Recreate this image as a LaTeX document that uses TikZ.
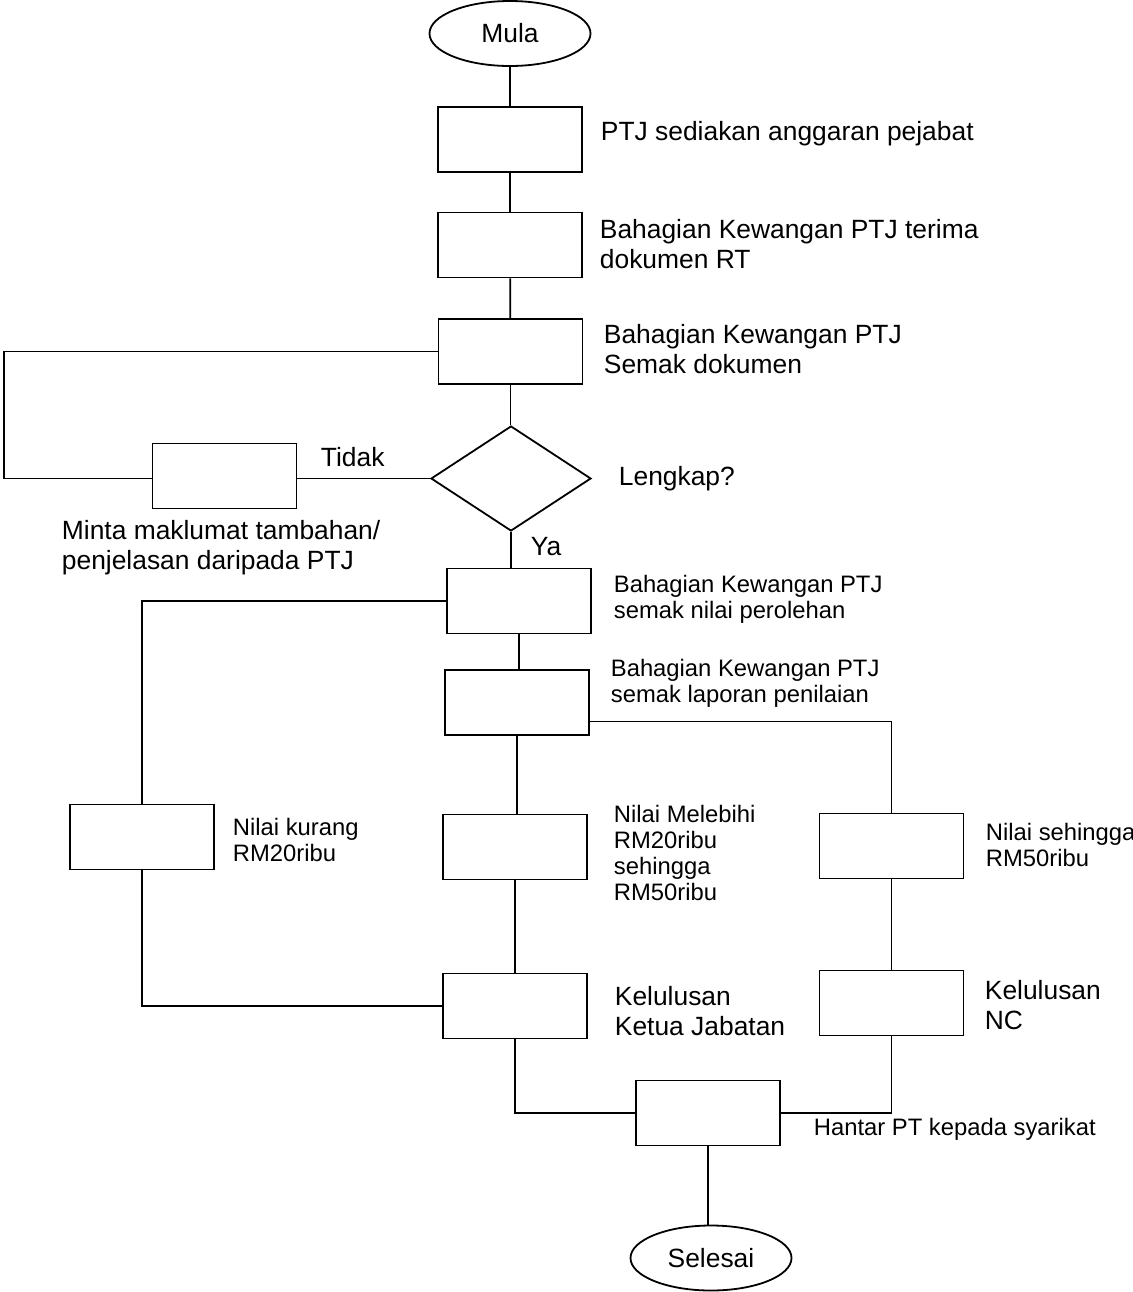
\documentclass[tikz,border=0pt]{standalone}
\usepackage{fontspec}
\setmainfont{Liberation Sans}
\usetikzlibrary{shapes.geometric}
\begin{document}
\begin{tikzpicture}[x=0.5pt,y=-0.5pt,line width=0.9pt,
  box/.style={draw,rectangle,inner sep=0pt,minimum width=72pt,minimum height=32.5pt},
  term/.style={draw,ellipse,inner sep=0pt,minimum width=80.5pt,minimum height=32.5pt,font=\fontsize{13.2}{15}\selectfont},
  dec/.style={draw,diamond,inner sep=0pt,minimum width=80pt,minimum height=52.5pt},
  lbl/.style={anchor=west,inner sep=0pt,align=left,font=\fontsize{13.2}{15}\selectfont},
  lbls/.style={anchor=west,inner sep=0pt,align=left,font=\fontsize{11.9}{13}\selectfont}]
\useasboundingbox (0,0) rectangle (1132,1292);
% nodes
\node[term] (mula) at (510,33.5) {Mula};
\node[box] (b1) at (510,139.5) {};
\node[box] (b2) at (510,245) {};
\node[box] (b3) at (510.5,351.5) {};
\node[box] (b4) at (224.5,476) {};
\node[dec] (d) at (511,478.5) {};
\node[box] (b5) at (519,601) {};
\node[box] (b7) at (517,702.5) {};
\node[box] (b6) at (142,837) {};
\node[box] (b8) at (515,847) {};
\node[box] (b9) at (891.5,846) {};
\node[box] (b10) at (515,1006) {};
\node[box] (b11) at (891.5,1003) {};
\node[box] (b12) at (708,1113) {};
\node[term] (sel) at (711,1258) {Selesai};
\coordinate (lx) at (4,400);
\coordinate (b7r) at ([yshift=-9.5pt]b7.east);
% labels
\node[lbl] (t1) at (600,134) {PTJ sediakan anggaran pejabat};
\node[lbl] (t2) at (599,244) {Bahagian Kewangan PTJ terima\\dokumen RT};
\node[lbl] (t3) at (603,349) {Bahagian Kewangan PTJ\\Semak dokumen};
\node[lbl] (tidak) at (320,457) {Tidak};
\node[lbl] (lengkap) at (618,479) {Lengkap?};
\node[lbl] (minta) at (61,548) {Minta maklumat tambahan/\\penjelasan daripada PTJ};
\node[lbl] (ya) at (530,547) {Ya};
\node[lbls] (t5) at (613,599) {Bahagian Kewangan PTJ\\semak nilai perolehan};
\node[lbls] (t7) at (610,683) {Bahagian Kewangan PTJ\\semak laporan penilaian};
\node[lbls] (t6) at (232,840) {Nilai kurang\\RM20ribu};
\node[lbls] (t8) at (613,853) {Nilai Melebihi\\RM20ribu\\sehingga\\RM50ribu};
\node[lbls] (t9) at (985,845) {Nilai sehingga\\RM50ribu};
\node[lbl] (t10) at (614,1011) {Kelulusan\\Ketua Jabatan};
\node[lbl] (t11) at (984,1005) {Kelulusan\\NC};
\node[lbls] (t12) at (813,1129) {Hantar PT kepada syarikat};
% connectors
\draw (mula) -- (b1);
\draw (b1) -- (b2);
\draw (b2) -- (b3);
\draw (b3.south) -- (b3.south |- d.north);
\draw (b3.west) -| (lx) |- (d.west -| b4.west);
\draw (d.west) -- (d.west -| b4.east);
\draw (d.south) -- (d.south |- b5.north);
\draw (b5.south) -- (b5.south |- b7.north);
\draw (b5.west) -| (b6.north);
\draw (b7r) -| (b9.north);
\draw (b7.south) -- (b7.south |- b8.north);
\draw (b8) -- (b10);
\draw (b6.south) |- (b10.west);
\draw (b9) -- (b11);
\draw (b10.south) |- (b12.west);
\draw (b11.south) |- (b12.east);
\draw (b12.south) -- (b12.south |- sel.north);
\end{tikzpicture}
\end{document}
